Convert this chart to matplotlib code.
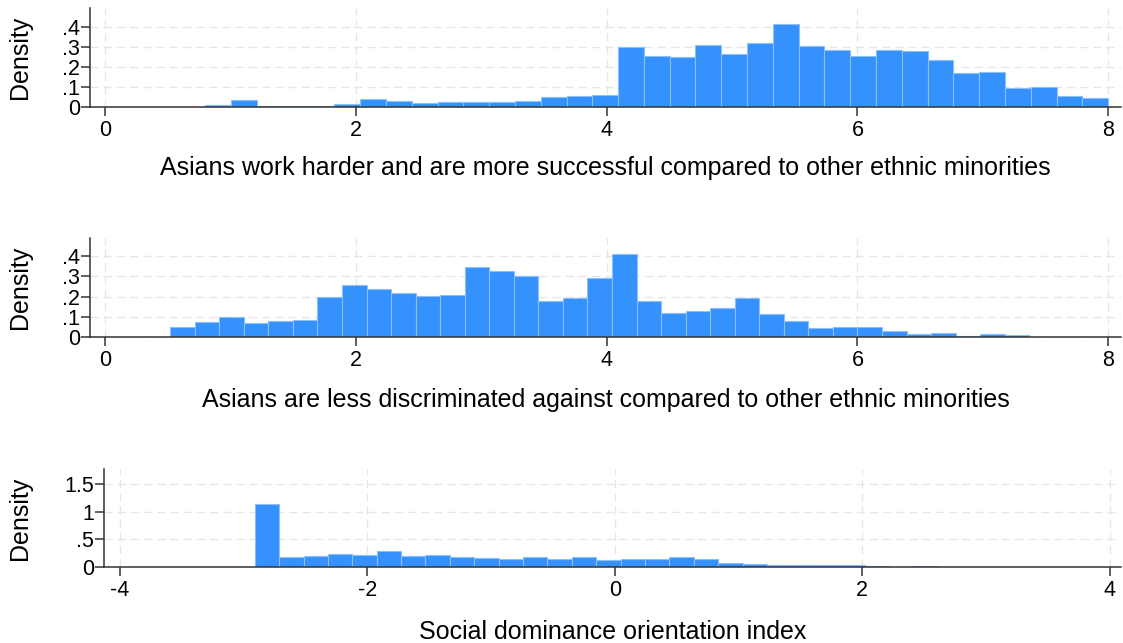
import matplotlib
matplotlib.use("Agg")
import matplotlib.pyplot as plt
import numpy as np

# bin layout (lower edge, width)
work_start, work_width = 0.80, 0.2057
discr_start, discr_width = 0.52, 0.1957
sdo_start, sdo_width = -2.91, 0.1971

work_density = [
    0.008, 0.035, 0.004, 0.004, 0.005, 0.013, 0.038, 0.030, 0.018, 0.023,
    0.024, 0.027, 0.032, 0.052, 0.055, 0.060, 0.298, 0.253, 0.247, 0.308,
    0.265, 0.317, 0.413, 0.303, 0.285, 0.253, 0.282, 0.277, 0.233, 0.167,
    0.173, 0.093, 0.098, 0.055, 0.047,
]
discr_density = [
    0.051, 0.075, 0.100, 0.069, 0.079, 0.085, 0.198, 0.259, 0.238, 0.216,
    0.205, 0.208, 0.348, 0.328, 0.303, 0.180, 0.195, 0.290, 0.410, 0.179,
    0.121, 0.131, 0.143, 0.195, 0.113, 0.079, 0.046, 0.048, 0.049, 0.030,
    0.016, 0.018, 0.007, 0.015, 0.011,
]
sdo_density = [
    1.145, 0.187, 0.200, 0.230, 0.220, 0.283, 0.205, 0.217, 0.175, 0.163,
    0.150, 0.175, 0.139, 0.187, 0.120, 0.139, 0.150, 0.180, 0.139, 0.072,
    0.048, 0.036, 0.030, 0.030, 0.030, 0.012, 0.006, 0.010, 0.005, 0.008,
    0.003, 0.002, 0.002, 0.006, 0.002,
]

work_xticks = [0, 2, 4, 6, 8]
sdo_xticks = [-4, -2, 0, 2, 4]
small_yticks = [0, 0.1, 0.2, 0.3, 0.4]
small_ylabels = ["0", ".1", ".2", ".3", ".4"]
sdo_yticks = [0, 0.5, 1, 1.5]
sdo_ylabels = ["0", ".5", "1", "1.5"]

work_title = "Asians work harder and are more successful compared to other ethnic minorities"
discr_title = "Asians are less discriminated against compared to other ethnic minorities"
sdo_title = "Social dominance orientation index"

BAR = "#3591fb"
EDGE = "#8cc0fc"
AXIS = "#333333"
GRID = "#e6e6e6"

plt.rcParams["font.family"] = ["Liberation Sans", "DejaVu Sans"]


def draw_hist(ax, start, width, density, xticks, xlim, yticks, ylabels,
              ylim, title, ypos):
    edges = start + width * np.arange(len(density))
    ax.bar(edges, density, width=width, align="edge", color=BAR,
           edgecolor=EDGE, linewidth=0.8, zorder=2)
    ax.set_xlim(*xlim)
    ax.set_ylim(*ylim)
    ax.set_xticks(xticks)
    ax.set_xticklabels([str(t) for t in xticks])
    ax.set_yticks(yticks)
    ax.set_yticklabels(ylabels)
    ax.grid(True, color=GRID, linestyle=(0, (6, 3.5)), linewidth=1.0,
            zorder=0)
    ax.set_axisbelow(True)
    for side in ("top", "right"):
        ax.spines[side].set_visible(False)
    for side in ("left", "bottom"):
        ax.spines[side].set_color(AXIS)
        ax.spines[side].set_linewidth(1.1)
    ax.tick_params(axis="both", colors=AXIS, labelcolor="black",
                   length=6.7, width=1.1, labelsize=15.5)
    ax.tick_params(axis="x", pad=3.0)
    ax.tick_params(axis="y", pad=0.5)
    ax.set_xlabel(title, fontsize=18, va="baseline")
    ax.xaxis.set_label_coords(0.5, ypos)
    ax.set_ylabel("Density", fontsize=18, va="center")


fig = plt.figure(figsize=(11.23, 6.43), dpi=100)
ax1 = fig.add_axes([0.0801, 0.8336, 0.918, 0.1540])
ax2 = fig.add_axes([0.0801, 0.4759, 0.918, 0.1540])
ax3 = fig.add_axes([0.0926, 0.1182, 0.9056, 0.1524])

draw_hist(ax1, work_start, work_width, work_density, work_xticks,
          (-0.12, 8.1), small_yticks, small_ylabels, (0, 0.493),
          work_title, -0.69)
draw_hist(ax2, discr_start, discr_width, discr_density, work_xticks,
          (-0.12, 8.1), small_yticks, small_ylabels, (0, 0.49),
          discr_title, -0.71)
draw_hist(ax3, sdo_start, sdo_width, sdo_density, sdo_xticks,
          (-4.128, 4.09), sdo_yticks, sdo_ylabels, (0, 1.778),
          sdo_title, -0.735)

ax1.yaxis.set_label_coords(-0.068, 0.5)
ax2.yaxis.set_label_coords(-0.068, 0.5)
ax3.yaxis.set_label_coords(-0.0826, 0.5)

fig.savefig("out.png", dpi=100)
